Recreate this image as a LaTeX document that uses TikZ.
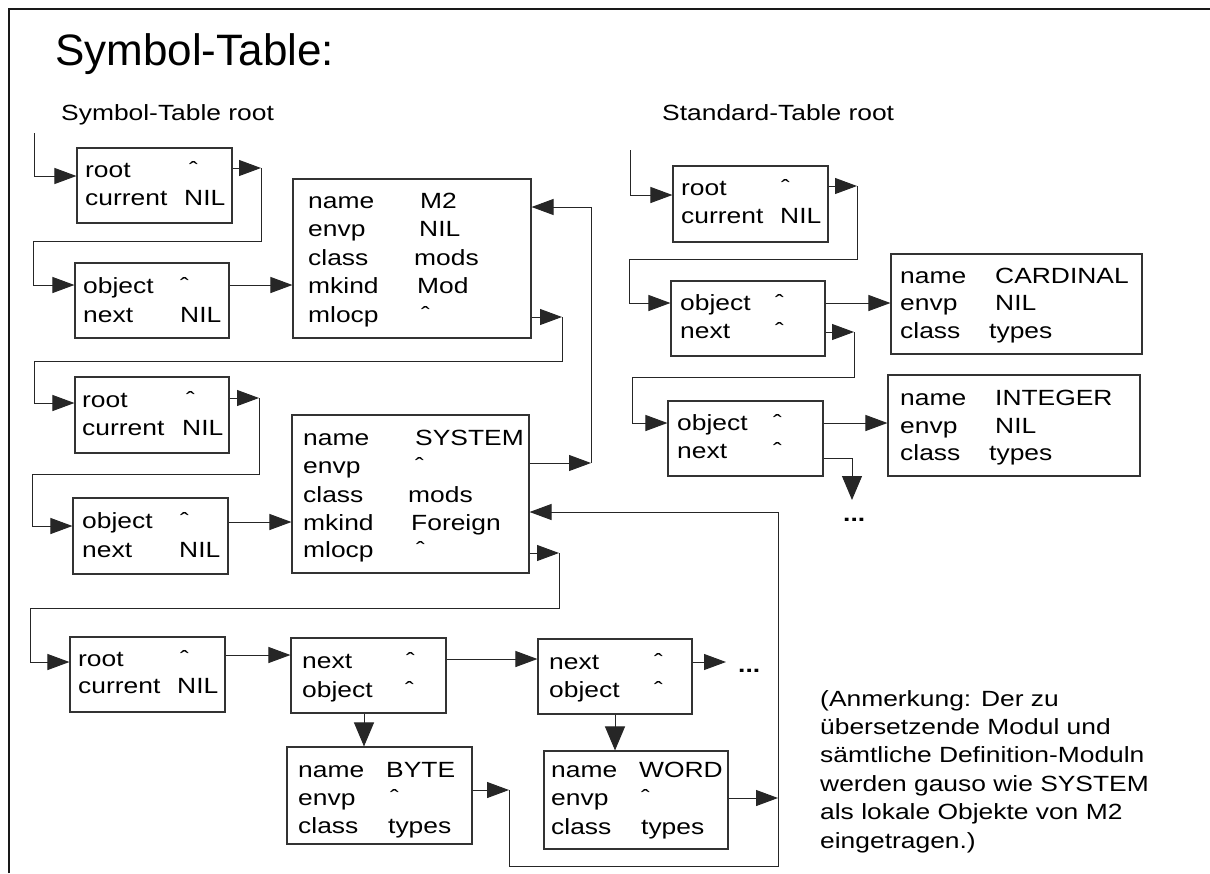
\documentclass[tikz,border=0pt]{standalone}
\usepackage{fontspec}
\setmainfont{Liberation Sans}[FakeStretch=1.2]
\newfontfamily\titlefont{Liberation Sans}
\usetikzlibrary{arrows.meta}
\newcounter{tn}
\newcommand\ptr{\symbol{"02C6}}
\newcommand\tx[3]{\stepcounter{tn}\node[txt] (tx\arabic{tn}) at (#1,#2) {#3};}
\newcommand\bx[5]{\node[box, minimum width={(#4-#2)*1pt}, minimum height={(#5-#3)*1pt}] (#1) at ({(#2+#4)/2},{(#3+#5)/2}) {};}
\tikzset{
  box/.style={draw=black!80, line width=1.1pt, rectangle, inner sep=0pt},
  txt/.style={anchor=base west, inner sep=0pt, font=\fontsize{22}{26}\selectfont},
  ln/.style={draw=black!85, line width=1pt},
  arr/.style={ln, -{Triangle[length=22pt,width=16pt]}},
  varr/.style={ln, -{Triangle[length=24pt,width=20pt]}},
  frameline/.style={draw=black!90, line width=2.5pt}
}
\begin{document}
\begin{tikzpicture}[x=1pt,y=-1pt]
\useasboundingbox (0,0) rectangle (1210,873);
\draw[frameline] (9,873) -- (9,9) -- (1210,9);
\node[anchor=base west, inner sep=0pt, font=\titlefont\fontsize{44}{50}\selectfont] (title) at (55,65) {Symbol-Table:};
\node[txt] (lsym) at (61,120) {Symbol-Table root};
\node[txt] (lstd) at (662,120) {Standard-Table root};

% boxes
\bx{r1}{77}{148}{232}{223}
\bx{o1}{75}{263}{229}{338}
\bx{m2}{293}{179}{531}{338}
\bx{r2}{75}{377}{229}{453}
\bx{o2}{73}{498}{228}{574}
\bx{sys}{292}{415}{529}{573}
\bx{r3}{70}{637}{225}{712}
\bx{n1}{291}{638}{446}{713}
\bx{byte}{287}{747}{472}{844}
\bx{n2}{538}{639}{692}{714}
\bx{word}{544}{751}{728}{849}
\bx{s1}{673}{166}{828}{242}
\bx{s2}{671}{281}{825}{356}
\bx{card}{891}{254}{1142}{354}
\bx{s3}{668}{401}{823}{476}
\bx{int}{888}{375}{1140}{476}

% texts
\tx{85}{177}{root}\tx{189}{177}{\ptr}\tx{85}{205}{current}\tx{184}{205}{NIL}
\tx{83}{293}{object}\tx{180}{293}{\ptr}\tx{83}{322}{next}\tx{180}{322}{NIL}
\tx{308}{208}{name}\tx{420}{208}{M2}
\tx{308}{236}{envp}\tx{419}{236}{NIL}
\tx{308}{265}{class}\tx{414}{265}{mods}
\tx{308}{293}{mkind}\tx{417}{293}{Mod}
\tx{308}{322}{mlocp}\tx{421}{322}{\ptr}
\tx{82}{407}{root}\tx{186}{407}{\ptr}\tx{82}{435}{current}\tx{182}{435}{NIL}
\tx{82}{528}{object}\tx{180}{528}{\ptr}\tx{82}{557}{next}\tx{179}{557}{NIL}
\tx{303}{445}{name}\tx{415}{445}{SYSTEM}
\tx{303}{473}{envp}\tx{415}{473}{\ptr}
\tx{303}{502}{class}\tx{408}{502}{mods}
\tx{303}{530}{mkind}\tx{411}{530}{Foreign}
\tx{303}{557}{mlocp}\tx{416}{557}{\ptr}
\tx{78}{666}{root}\tx{180}{666}{\ptr}\tx{78}{693}{current}\tx{177}{693}{NIL}
\tx{302}{668}{next}\tx{406}{668}{\ptr}\tx{302}{697}{object}\tx{405}{697}{\ptr}
\tx{298}{777}{name}\tx{386}{777}{BYTE}
\tx{298}{805}{envp}\tx{390}{805}{\ptr}
\tx{298}{833}{class}\tx{388}{833}{types}
\tx{549}{669}{next}\tx{654}{669}{\ptr}\tx{549}{697}{object}\tx{654}{697}{\ptr}
\tx{551}{777}{name}\tx{639}{777}{WORD}
\tx{551}{805}{envp}\tx{641}{805}{\ptr}
\tx{551}{834}{class}\tx{641}{834}{types}
\tx{681}{195}{root}\tx{781}{195}{\ptr}\tx{681}{223}{current}\tx{780}{223}{NIL}
\tx{680}{310}{object}\tx{775}{310}{\ptr}\tx{680}{338}{next}\tx{775}{338}{\ptr}
\tx{900}{283}{name}\tx{995}{283}{CARDINAL}
\tx{900}{310}{envp}\tx{995}{310}{NIL}
\tx{900}{338}{class}\tx{989}{338}{types}
\tx{677}{430}{object}\tx{773}{430}{\ptr}\tx{677}{458}{next}\tx{773}{458}{\ptr}
\tx{900}{405}{name}\tx{995}{405}{INTEGER}
\tx{900}{433}{envp}\tx{995}{433}{NIL}
\tx{900}{460}{class}\tx{989}{460}{types}

\node[txt, font=\fontsize{22}{26}\selectfont\bfseries] (dots1) at (738,672) {...};
\node[txt, font=\fontsize{22}{26}\selectfont\bfseries] (dots2) at (843,521) {...};
\node[txt, align=left, font=\fontsize{22}{28.4}\selectfont] (note) at (820,848)
 {(Anmerkung: Der zu\\übersetzende Modul und\\sämtliche Definition-Moduln\\werden gauso wie SYSTEM\\als lokale Objekte von M2\\eingetragen.)};

% junction coordinates
\coordinate (stin) at (34,133);
\coordinate (j1) at (261,168);
\coordinate (j2) at (562,317);
\coordinate (j3) at (259,398);
\coordinate (j4) at (591,463);
\coordinate (j5) at (559,553);
\coordinate (j6) at (726,662);
\coordinate (j7) at (509,790);
\coordinate (j8) at (778,798);
\coordinate (stdin) at (630,150);
\coordinate (j9) at (857,186);
\coordinate (j10) at (854,332);
\coordinate (j11) at (852,500);

% symbol table connectors
\draw[arr] (stin) -- (34,176) -- (r1.west|-0,176);
\draw[arr] (r1.east|-0,168) -- (j1);
\draw[arr] (j1) -- (261,241) -- (33,241) -- (33,285) -- (o1.west|-0,285);
\draw[arr] (o1.east|-0,285) -- (m2.west|-0,285);
\draw[arr] (m2.east|-0,317) -- (j2);
\draw[arr] (j2) -- (562,361) -- (34,361) -- (34,403) -- (r2.west|-0,403);
\draw[arr] (r2.east|-0,398) -- (j3);
\draw[arr] (j3) -- (259,474) -- (32,474) -- (32,526) -- (o2.west|-0,526);
\draw[arr] (o2.east|-0,522) -- (sys.west|-0,522);
\draw[arr] (sys.east|-0,463) -- (j4);
\draw[arr] (j4) -- (591,207) -- (m2.east|-0,207);
\draw[arr] (sys.east|-0,553) -- (j5);
\draw[arr] (j5) -- (559,608) -- (30,608) -- (30,662) -- (r3.west|-0,662);
\draw[arr] (r3.east|-0,655) -- (n1.west|-0,655);
\draw[arr] (n1.east|-0,659) -- (n2.west|-0,659);
\draw[varr] (n1.south-|364,0) -- (byte.north-|364,0);
\draw[arr] (n2.east|-0,662) -- (j6);
\draw[varr] (n2.south-|615,0) -- (word.north-|615,0);
\draw[arr] (byte.east|-0,790) -- (j7);
\draw[arr] (j7) -- (509,866) -- (778,866) -- (778,512) -- (sys.east|-0,512);
\draw[arr] (word.east|-0,798) -- (j8);

% standard table connectors
\draw[arr] (stdin) -- (630,195) -- (s1.west|-0,195);
\draw[arr] (s1.east|-0,186) -- (j9);
\draw[arr] (j9) -- (857,259) -- (629,259) -- (629,303) -- (s2.west|-0,303);
\draw[arr] (s2.east|-0,303) -- (card.west|-0,303);
\draw[arr] (s2.east|-0,332) -- (j10);
\draw[arr] (j10) -- (854,377) -- (632,377) -- (632,423) -- (s3.west|-0,423);
\draw[arr] (s3.east|-0,423) -- (int.west|-0,423);
\draw[varr] (s3.east|-0,458) -- (852,458) -- (j11);
\end{tikzpicture}
\end{document}
